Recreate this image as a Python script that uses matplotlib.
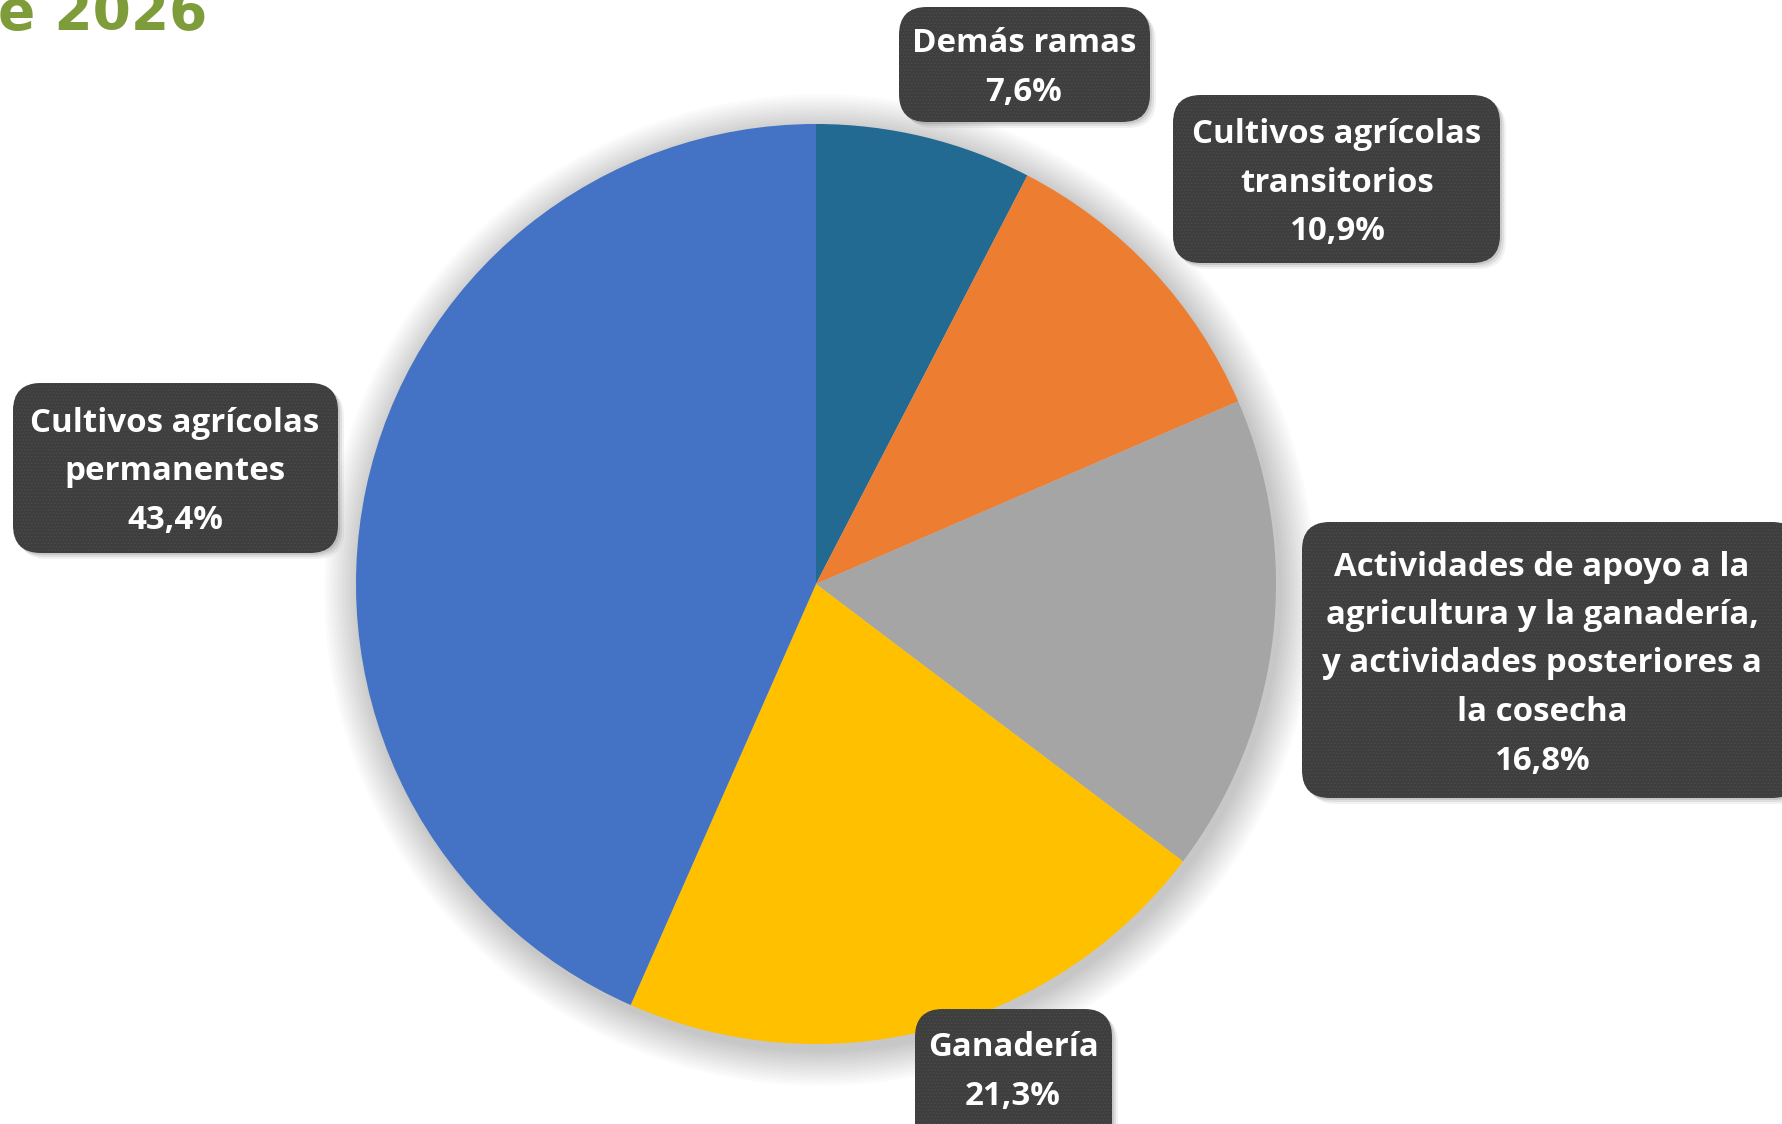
import matplotlib
matplotlib.use("Agg")
import matplotlib.pyplot as plt
from matplotlib.patches import FancyBboxPatch, Circle

# ---------------- data ----------------
categories = [
    "Demás ramas",
    "Cultivos agrícolas\ntransitorios",
    "Actividades de apoyo a la\nagricultura y la ganadería,\ny actividades posteriores a\nla cosecha",
    "Ganadería",
    "Cultivos agrícolas\npermanentes",
]
shares = [7.6, 10.9, 16.8, 21.3, 43.4]
colors = ["#236A93", "#ED7D31", "#A5A5A5", "#FFC000", "#4472C4"]
title_text = "e 2026"

# ---------------- figure ----------------
W, H = 1782, 1124
plt.rcParams["hatch.linewidth"] = 0.6
fig = plt.figure(figsize=(W / 100, H / 100), dpi=100)
ax = fig.add_axes([0, 0, 1, 1])
ax.set_xlim(0, W)
ax.set_ylim(0, H)
ax.set_aspect("equal")
ax.axis("off")

cx, cy, R = 816, H - 584, 460

# soft shadow around pie
for i in range(14):
    r = R + 2 + i * 2.6
    ax.add_patch(Circle((cx + 4, cy - 6), r, facecolor="#000000",
                        alpha=0.014, edgecolor="none", zorder=1))

ax.pie(shares, colors=colors, startangle=90, counterclock=False,
       center=(cx, cy), radius=R, frame=True,
       wedgeprops=dict(linewidth=0, zorder=2))
ax.set_xlim(0, W)
ax.set_ylim(0, H)
ax.axis("off")

# label boxes (x0, y0_top, x1, y1_bottom) in image pixels
boxes = [
    (899, 7, 1150, 122),
    (1173, 95, 1500, 263),
    (1302, 522, 1800, 798),
    (915, 1009, 1112, 1150),
    (13, 383, 338, 553),
]
text_centers = [
    (1024, 68),
    (1337, 183),
    (1542, 664),
    (1013, 1072),
    (175, 472),
]

for (x0, y0, x1, y1), (tx, ty), cat, val in zip(boxes, text_centers, categories, shares):
    w, h = x1 - x0, y1 - y0
    # shadow
    for k, a in [(6, 0.05), (4, 0.08), (2, 0.10)]:
        ax.add_patch(FancyBboxPatch((x0 + k, H - y1 - k), w, h,
                                    boxstyle="round,pad=0,rounding_size=28",
                                    facecolor="#000000", edgecolor="none",
                                    alpha=a, zorder=5))
    ax.add_patch(FancyBboxPatch((x0, H - y1), w, h,
                                boxstyle="round,pad=0,rounding_size=28",
                                facecolor="#3E3E3E", edgecolor="#4C4C4C",
                                linewidth=0, hatch=".....", zorder=6))
    label = f"{cat}\n{val:.1f}%".replace(".", ",")
    ax.text(tx, H - ty, label, ha="center", va="center", color="white",
            fontsize=23.8, fontweight="bold", family=["Open Sans", "DejaVu Sans"],
            linespacing=1.62, zorder=7)

# title fragment
ax.text(-2, H - 29, title_text, ha="left", va="baseline", color="#7F9C3A",
        fontsize=39.5, fontweight="bold", family=["DejaVu Sans"], zorder=8)

fig.savefig("out.png", dpi=100)
